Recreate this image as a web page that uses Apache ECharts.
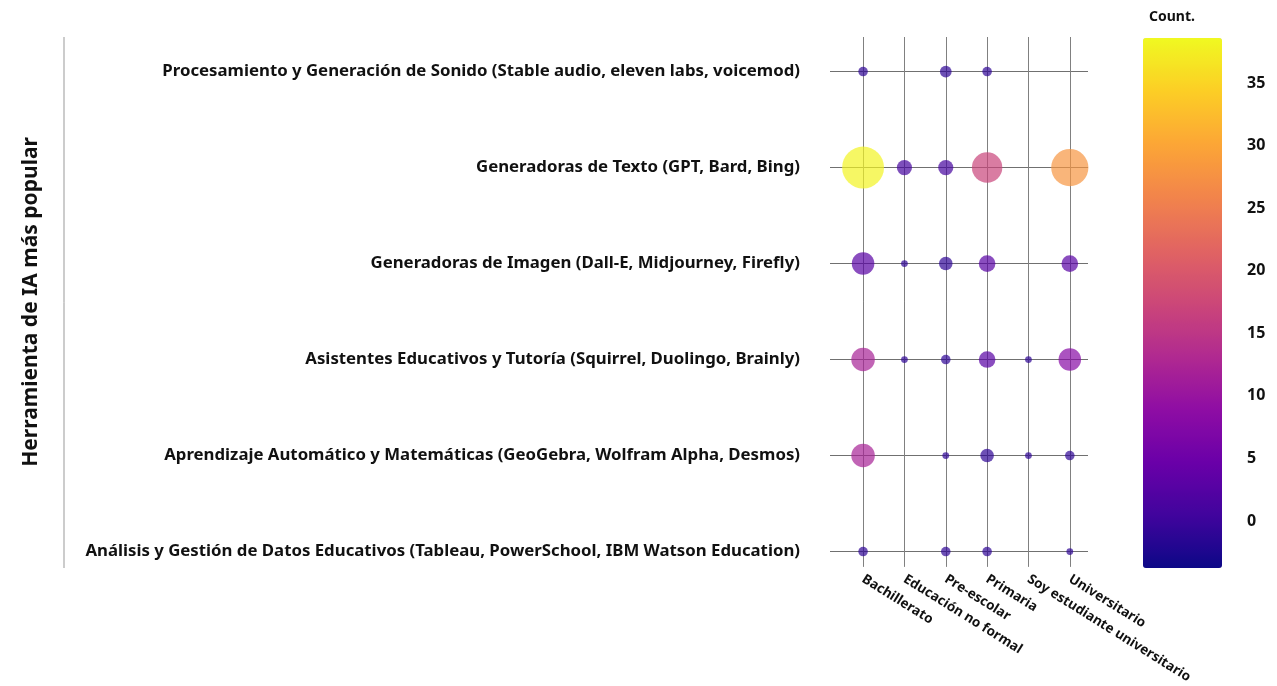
<!DOCTYPE html>
<html>
<head>
<meta charset="utf-8">
<script src="https://cdn.jsdelivr.net/npm/echarts@6/dist/echarts.min.js"></script>
<style>
  html, body { margin: 0; padding: 0; background: #fff; }
  #chart { width: 1277px; height: 686px; }
</style>
</head>
<body>
<div id="chart"></div>
<script>
  // categorías
  const levels = ['Bachillerato', 'Educación no formal', 'Pre-escolar', 'Primaria', 'Soy estudiante universitario', 'Universitario']
  const tools = [
    'Análisis y Gestión de Datos Educativos (Tableau, PowerSchool, IBM Watson Education)',
    'Aprendizaje Automático y Matemáticas (GeoGebra, Wolfram Alpha, Desmos)',
    'Asistentes Educativos y Tutoría (Squirrel, Duolingo, Brainly)',
    'Generadoras de Imagen (Dall-E, Midjourney, Firefly)',
    'Generadoras de Texto (GPT, Bard, Bing)',
    'Procesamiento y Generación de Sonido (Stable audio, eleven labs, voicemod)'
  ]

  // tamaño de burbuja, una fila por herramienta (orden de levels)
  const sizeAnalisis = [2, null, 2, 2, null, 1]
  const sizeAprendizaje = [12, null, 1, 4, 1, 2]
  const sizeAsistentes = [12, 1, 2, 6, 1, 11]
  const sizeImagen = [11, 1, 4, 6, null, 6]
  const sizeTexto = [38, 5, 5, 20, null, 30]
  const sizeSonido = [2, null, 3, 2, null, null]

  // color (Count.)
  const countAnalisis = [-1, null, -1, -1, null, -1]
  const countAprendizaje = [12, null, -1, -1, -1, -1]
  const countAsistentes = [12, -1, -1, 3, -1, 8]
  const countImagen = [3, -1, -1, 3, null, 3]
  const countTexto = [38, 1, 1, 17, null, 28]
  const countSonido = [-1, null, -1, -1, null, null]

  const colorTicks = [0, 5, 10, 15, 20, 25, 30, 35]
  const cMin = -3.76
  const cMax = 38.6

  const sizeRows = [sizeAnalisis, sizeAprendizaje, sizeAsistentes, sizeImagen, sizeTexto, sizeSonido]
  const countRows = [countAnalisis, countAprendizaje, countAsistentes, countImagen, countTexto, countSonido]

  const points = []
  sizeRows.forEach((row, yi) => {
    row.forEach((s, xi) => {
      if (s != null) points.push([xi, yi, s, countRows[yi][xi]])
    })
  })

  const chart = echarts.init(document.getElementById('chart'))
  const fontFamily = 'Noto Sans'
  chart.setOption({
    backgroundColor: '#fff',
    animation: false,
    textStyle: { fontFamily: fontFamily },
    title: {
      text: 'Count.',
      left: 1144,
      top: 5,
      textStyle: { fontSize: 14, fontWeight: 'bold', color: '#111', fontFamily: fontFamily }
    },
    grid: [
      { left: 830, top: 37, width: 258, height: 531 },
      { left: 1143, top: 38, width: 79, height: 530 }
    ],
    xAxis: [
      {
        gridIndex: 0,
        type: 'value',
        min: -0.8,
        max: 5.44,
        axisLine: { show: false },
        axisTick: { show: false, customValues: [0, 1, 2, 3, 4, 5] },
        axisLabel: {
          customValues: [0, 1, 2, 3, 4, 5],
          formatter: v => levels[Math.round(v)],
          rotate: -32,
          margin: 11,
          fontSize: 13.5,
          fontWeight: 'bold',
          color: '#111'
        },
        splitLine: { show: true, lineStyle: { color: '#808080', width: 1 } }
      },
      { gridIndex: 1, type: 'value', show: false, min: 0, max: 1 }
    ],
    yAxis: [
      {
        gridIndex: 0,
        type: 'value',
        min: -0.16,
        max: 5.36,
        name: 'Herramienta de IA más popular',
        nameLocation: 'middle',
        nameGap: 788,
        nameTextStyle: { fontSize: 21, fontWeight: 'bold', color: '#111' },
        axisLine: { show: false },
        axisTick: { show: false, customValues: [0, 1, 2, 3, 4, 5] },
        axisLabel: {
          customValues: [0, 1, 2, 3, 4, 5],
          formatter: v => tools[Math.round(v)],
          margin: 30,
          fontSize: 16.8,
          fontWeight: 'bold',
          color: '#111'
        },
        splitLine: { show: true, lineStyle: { color: '#707070', width: 1 } }
      },
      {
        gridIndex: 1,
        type: 'value',
        position: 'right',
        min: cMin,
        max: cMax,
        axisLine: { show: false },
        axisTick: { show: false, customValues: colorTicks },
        splitLine: { show: false },
        axisLabel: {
          customValues: colorTicks,
          margin: 25,
          fontSize: 16,
          fontWeight: 'bold',
          color: '#111'
        }
      }
    ],
    visualMap: {
      type: 'continuous',
      seriesIndex: 0,
      dimension: 3,
      min: cMin,
      max: cMax,
      left: 1143,
      top: 38,
      itemWidth: 79,
      itemHeight: 530,
      padding: 0,
      calculable: false,
      text: null,
      showLabel: false,
      inRange: {
        color: ['#0d0887', '#41049d', '#6a00a8', '#8f0da4', '#b12a90', '#cc4778',
          '#e16462', '#f2844b', '#fca636', '#fcce25', '#f0f921']
      }
    },
    graphic: [
      {
        type: 'line',
        shape: { x1: 64, y1: 37, x2: 64, y2: 568 },
        style: { stroke: '#999', lineWidth: 1 }
      }
    ],
    series: [
      {
        type: 'scatter',
        xAxisIndex: 0,
        yAxisIndex: 0,
        data: points,
        symbolSize: d => 6.8 * Math.sqrt(d[2]),
        itemStyle: { opacity: 0.7 }
      }
    ]
  })
</script>
</body>
</html>
